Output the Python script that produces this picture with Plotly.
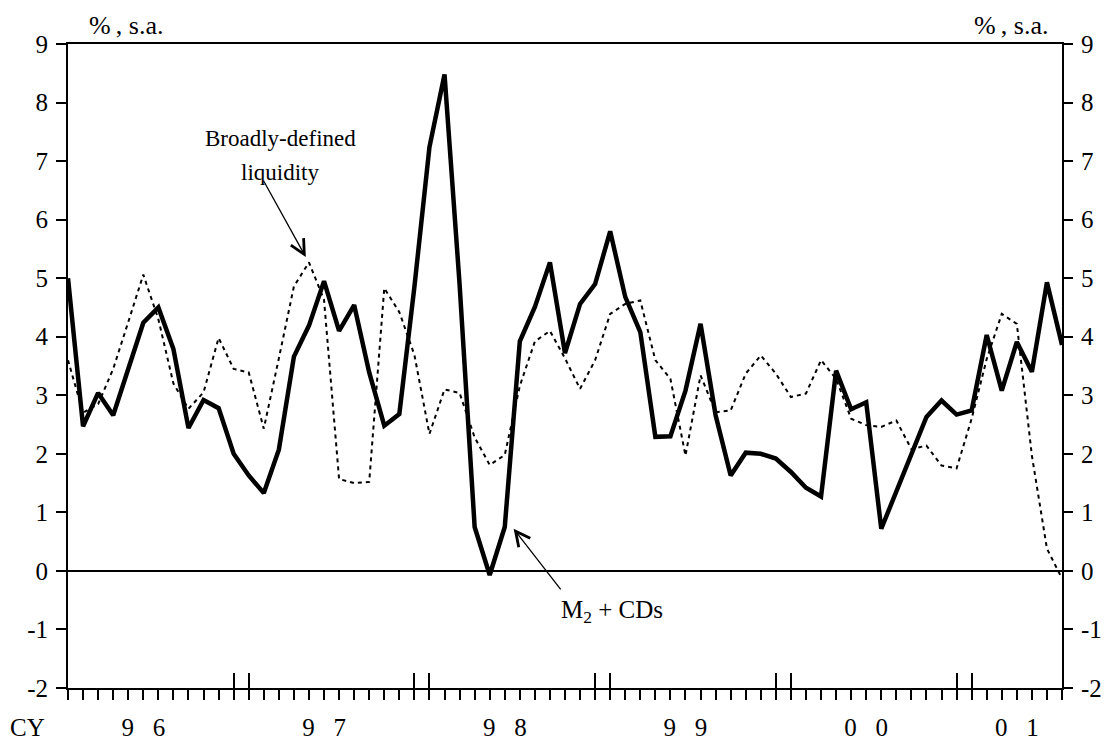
import plotly.graph_objects as go

# monthly index, Jan 1996 = 0 ... Jul 2001 = 66
months = list(range(67))

m2_cds = [
    5.0, 2.47, 3.04, 2.66, 3.45, 4.24, 4.5, 3.79, 2.44, 2.92, 2.78, 2.0,
    1.63, 1.33, 2.07, 3.66, 4.19, 4.95, 4.1, 4.54, 3.39, 2.48, 2.68, 4.85,
    7.24, 8.48, 4.9, 0.75, -0.07, 0.75, 3.92, 4.51, 5.27, 3.72, 4.56, 4.9,
    5.8, 4.68, 4.08, 2.29, 2.3, 3.08, 4.22, 2.66, 1.63, 2.02, 2.0, 1.92,
    1.69, 1.42, 1.27, 3.42, 2.76, 2.88, 0.72, 1.35, 1.95, 2.63, 2.91, 2.67,
    2.74, 4.03, 3.08, 3.91, 3.4, 4.93, 3.86,
]

liquidity = [
    3.6, 2.7, 2.85, 3.45, 4.25, 5.06, 4.3, 3.2, 2.77, 3.05, 3.98, 3.45,
    3.39, 2.43, 3.63, 4.86, 5.27, 4.63, 1.57, 1.5, 1.52, 4.83, 4.42, 3.69,
    2.34, 3.1, 3.04, 2.28, 1.81, 1.98, 3.16, 3.92, 4.1, 3.63, 3.11, 3.6,
    4.39, 4.56, 4.62, 3.6, 3.28, 1.97, 3.34, 2.71, 2.74, 3.37, 3.68, 3.37,
    2.97, 3.03, 3.6, 3.28, 2.6, 2.49, 2.46, 2.57, 2.08, 2.14, 1.8, 1.75,
    2.6, 3.62, 4.39, 4.22, 1.97, 0.38, -0.13,
]

y_ticks = list(range(-2, 10))
y_tick_text = [str(v) for v in y_ticks]  # plain hyphen minus, as in the original

NB = "\u00a0\u00a0\u00a0"
year_label_pos = [5, 17, 29, 41, 53, 63]
year_labels = ["9" + NB + "6", "9" + NB + "7", "9" + NB + "8",
               "9" + NB + "9", "0" + NB + "0", "0" + NB + "1"]
year_marks = [11, 12, 23, 24, 35, 36, 47, 48, 59, 60]

FONT = "Liberation Serif, Times New Roman, serif"

fig = go.Figure()

# Broadly-defined liquidity (dotted)
fig.add_trace(go.Scatter(
    x=months, y=liquidity, mode="lines",
    line=dict(color="black", width=2, dash="4px,4px"),
    name="Broadly-defined liquidity", hoverinfo="skip",
))

# M2 + CDs (thick solid)
fig.add_trace(go.Scatter(
    x=months, y=m2_cds, mode="lines",
    line=dict(color="black", width=4.5),
    name="M2 + CDs",
))

# invisible helpers so the secondary axes are drawn
fig.add_trace(go.Scatter(x=months, y=m2_cds, xaxis="x2", mode="lines",
                         line=dict(color="rgba(0,0,0,0)"), hoverinfo="skip"))
fig.add_trace(go.Scatter(x=months, y=m2_cds, yaxis="y2", mode="lines",
                         line=dict(color="rgba(0,0,0,0)"), hoverinfo="skip"))

tick_font = dict(family=FONT, size=25, color="black")

# page body has an 8px default margin, so the figure is 8px smaller each way
fig.update_layout(
    width=1101, height=737,
    margin=dict(l=60, r=47, t=36, b=57),
    paper_bgcolor="white", plot_bgcolor="white",
    showlegend=False,
    font=dict(family=FONT, color="black"),
    xaxis=dict(
        range=[0, 66], showgrid=False, zeroline=False, automargin=False,
        showline=True, linecolor="black", linewidth=2, mirror=True,
        tickmode="array", tickvals=year_label_pos, ticktext=year_labels,
        ticks="outside", ticklen=10, tickwidth=2, tickcolor="black",
        tickfont=tick_font, ticklabelstandoff=6,
        minor=dict(tickmode="array", tickvals=months, ticks="outside",
                   ticklen=10, tickwidth=2, tickcolor="black", showgrid=False),
    ),
    xaxis2=dict(
        overlaying="x", anchor="y", side="bottom", range=[0, 66],
        showgrid=False, zeroline=False, showline=False, automargin=False,
        tickmode="array", tickvals=year_marks, showticklabels=False,
        ticks="inside", ticklen=15, tickwidth=2, tickcolor="black",
    ),
    yaxis=dict(
        range=[-2, 9], tickmode="array", tickvals=y_ticks, ticktext=y_tick_text,
        showgrid=False, automargin=False,
        zeroline=True, zerolinecolor="black", zerolinewidth=2,
        showline=True, linecolor="black", linewidth=2, mirror=True,
        ticks="outside", ticklen=10, tickwidth=2, tickcolor="black",
        tickfont=tick_font, ticklabelstandoff=3,
    ),
    yaxis2=dict(
        overlaying="y", side="right", range=[-2, 9],
        tickmode="array", tickvals=y_ticks, ticktext=y_tick_text,
        showgrid=False, zeroline=False, showline=False, automargin=False,
        ticks="outside", ticklen=10, tickwidth=2, tickcolor="black",
        tickfont=tick_font, ticklabelstandoff=3,
    ),
)

ann_font = dict(family=FONT, size=23, color="black")
unit_font = dict(family=FONT, size=26, color="black")

# unit labels
fig.add_annotation(text="%\u2009, s.a.", xref="paper", yref="paper", x=0.0589, y=1.028,
                   xanchor="center", yanchor="middle", showarrow=False, font=unit_font)
fig.add_annotation(text="%\u2009, s.a.", xref="paper", yref="paper", x=0.9487, y=1.028,
                   xanchor="center", yanchor="middle", showarrow=False, font=unit_font)
fig.add_annotation(text="CY", xref="paper", yref="paper", x=-0.021, y=-0.0606,
                   xanchor="right", yanchor="middle", showarrow=False, font=tick_font)

# series labels
fig.add_annotation(text="Broadly-defined", x=14.1, y=7.38, xref="x", yref="y",
                   showarrow=False, font=ann_font)
fig.add_annotation(text="liquidity", x=14.1, y=6.8, xref="x", yref="y",
                   showarrow=False, font=ann_font)
fig.add_annotation(x=15.79, y=5.36, ax=12.93, ay=6.69, xref="x", yref="y",
                   axref="x", ayref="y", text="", showarrow=True,
                   arrowhead=5, arrowsize=2.2, arrowwidth=1.3, arrowcolor="black")

fig.add_annotation(text="M<sub>2</sub> + CDs", x=36.1, y=-0.7, xref="x", yref="y",
                   showarrow=False, font=dict(family=FONT, size=25, color="black"))
fig.add_annotation(x=29.59, y=0.72, ax=32.79, ay=-0.34, xref="x", yref="y",
                   axref="x", ayref="y", text="", showarrow=True,
                   arrowhead=5, arrowsize=2.2, arrowwidth=1.3, arrowcolor="black")

fig.write_html("out.html")
